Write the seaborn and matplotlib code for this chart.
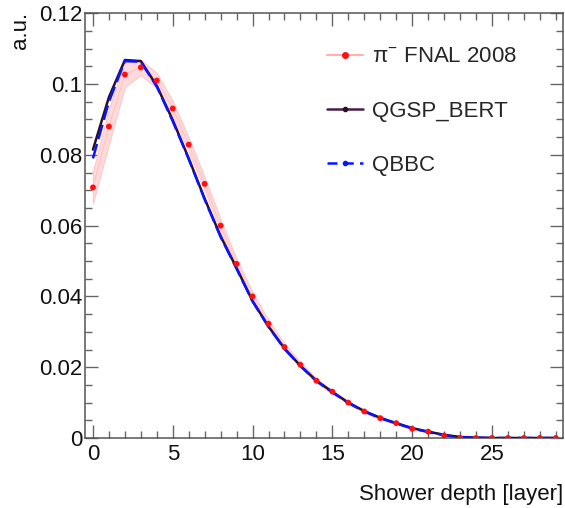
import numpy as np
import pandas as pd
import matplotlib
matplotlib.use("Agg")
import matplotlib.pyplot as plt
from matplotlib.lines import Line2D
from matplotlib.ticker import MultipleLocator, FuncFormatter
import seaborn as sns

layers = list(range(30))
data_vals = [0.0708, 0.0880, 0.1027, 0.1047, 0.1010, 0.0931, 0.0829, 0.0718, 0.0600, 0.0492,
             0.0400, 0.0323, 0.0257, 0.0207, 0.0162, 0.0131, 0.0100, 0.0075, 0.0056, 0.0042,
             0.0026, 0.0018, 0.0007, 0.0, 0.0, 0.0, 0.0, 0.0, 0.0, 0.0]
data_err = [0.0045, 0.0050, 0.0035, 0.0022, 0.0021, 0.0021, 0.0020, 0.0019, 0.0017, 0.0014,
            0.0012, 0.0010, 0.0009, 0.0007, 0.0006, 0.0005, 0.0004, 0.0004, 0.0003, 0.0002,
            0.0002, 0.0002, 0.0001, 0.0001, 0.0, 0.0, 0.0, 0.0, 0.0, 0.0]
qgsp_vals = [0.0815, 0.0963, 0.1068, 0.1065, 0.0995, 0.0898, 0.0790, 0.0676, 0.0570, 0.0480,
             0.0387, 0.0315, 0.0253, 0.0204, 0.0162, 0.0130, 0.0100, 0.0076, 0.0057, 0.0042,
             0.0028, 0.0018, 0.0009, 0.0003, 0.0001, 0.0, 0.0, 0.0, 0.0, 0.0]
qbbc_vals = [0.0790, 0.0950, 0.1065, 0.1063, 0.0993, 0.0895, 0.0788, 0.0674, 0.0568, 0.0478,
             0.0386, 0.0314, 0.0252, 0.0203, 0.0161, 0.0129, 0.0099, 0.0075, 0.0056, 0.0041,
             0.0027, 0.0017, 0.0008, 0.0002, 0.0001, 0.0, 0.0, 0.0, 0.0, 0.0]
labels = ["π$^{-}$ FNAL 2008", "QGSP_BERT", "QBBC"]

sns.set_theme(style="ticks")
plt.rcParams['font.family'] = ['Liberation Sans', 'DejaVu Sans']
plt.rcParams['mathtext.fontset'] = 'custom'
plt.rcParams['mathtext.rm'] = 'Liberation Sans'

FS = 16

df = pd.DataFrame({"layer": layers, "data": data_vals, "err": data_err,
                   "qgsp": qgsp_vals, "qbbc": qbbc_vals})

fig = plt.figure(figsize=(5.65, 5.08), dpi=100)
ax = fig.add_axes([0.1504, 0.1378, 0.9965 - 0.1504, 0.9738 - 0.1378])

lo = df["data"] - df["err"]
hi = df["data"] + df["err"]
ax.fill_between(df["layer"], lo, hi, color="#ffd6d6", alpha=0.9, lw=0.8, edgecolor="#ffc4c4", zorder=1)
sns.lineplot(data=df, x="layer", y="data", ax=ax, color="#ffc4c4", lw=0.8, zorder=2)
sns.lineplot(data=df, x="layer", y="qgsp", ax=ax, color="#2a0f2a", lw=1.8, zorder=3)
sns.lineplot(data=df, x="layer", y="qbbc", ax=ax, color="#0a14ff", lw=1.8, zorder=4,
             dashes=False, linestyle=(0, (6, 2)))
sns.scatterplot(data=df, x="layer", y="data", ax=ax, color="#ff1010", s=18, edgecolor="none", zorder=5)

ax.set_xlim(-0.5, 29.45)
ax.set_ylim(0, 0.12)
ax.xaxis.set_major_locator(MultipleLocator(5))
ax.xaxis.set_minor_locator(MultipleLocator(1))
ax.yaxis.set_major_locator(MultipleLocator(0.02))
ax.yaxis.set_minor_locator(MultipleLocator(0.005))

def yfmt(v, pos):
    s = f"{v:.2f}".rstrip("0").rstrip(".")
    return s
ax.yaxis.set_major_formatter(FuncFormatter(yfmt))

tc = "#666666"
ax.tick_params(which="both", direction="in", top=True, right=True, colors=tc,
               labelcolor="#111111", labelsize=FS, width=1.0)
ax.tick_params(which="major", length=9.5)
ax.tick_params(which="minor", length=5)
ax.tick_params(axis="y", which="major", pad=2)
ax.tick_params(axis="x", which="major", pad=4)
for sp in ax.spines.values():
    sp.set_color("#555555")
    sp.set_linewidth(1.1)

ax.set_xlabel("")
ax.set_ylabel("")
fig.text(0.9965, 0.016, "Shower depth [layer]", ha="right", va="baseline", fontsize=FS, color="#111111")
fig.text(0.037, 0.976, "a.u.", ha="center", va="top", rotation=90, fontsize=FS, color="#111111")

handles = [
    Line2D([0], [0], color="#ffb0b0", lw=1.5, marker="o", markersize=4,
           markerfacecolor="#ff1010", markeredgecolor="#ff1010"),
    Line2D([0], [0], color="#4a1a48", lw=1.8, marker="o", markersize=3,
           markerfacecolor="#2a0f2a", markeredgecolor="#2a0f2a"),
    Line2D([0], [0], color="#0a14ff", lw=1.8, linestyle=(0, (4, 2.5)), marker="o", markersize=3,
           markerfacecolor="#0a14ff", markeredgecolor="#0a14ff"),
]
leg = ax.legend(handles, labels, loc="upper left", bbox_to_anchor=(0.563, 0.926),
                bbox_transform=fig.transFigure, frameon=False, fontsize=FS,
                handlelength=1.62, handletextpad=0.4, labelspacing=1.5, borderaxespad=0)

fig.savefig("out.png", dpi=100)
